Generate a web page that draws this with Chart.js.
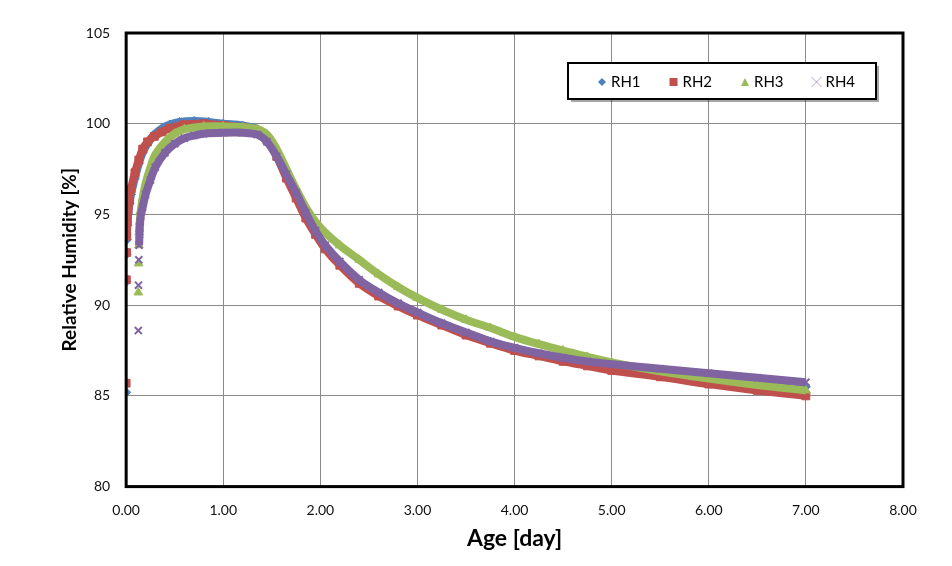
<!DOCTYPE html>
<html>
<head>
<meta charset="utf-8">
<script src="https://cdn.jsdelivr.net/npm/chart.js@4.4.0/dist/chart.umd.min.js"></script>
<style>
  html, body { margin: 0; padding: 0; background: #ffffff; }
</style>
</head>
<body>
<canvas id="graficoRH" width="952" height="566"></canvas>
<script>
// --- datos ---
const nombresSeries = ['RH1', 'RH2', 'RH3', 'RH4'];

const edadRH1 = [0, 0.002, 0.004, 0.007, 0.012, 0.02, 0.035, 0.05, 0.09, 0.13, 0.17, 0.22, 0.29, 0.37, 0.45, 0.55, 0.7, 0.85, 1.0, 1.2, 1.35, 1.45, 1.55, 1.65, 1.75, 1.85, 1.95, 2.05, 2.2, 2.4, 2.6, 2.8, 3.0, 3.25, 3.5, 3.75, 4.0, 4.25, 4.5, 4.75, 5.0, 5.5, 6.0, 6.5, 7.0];
const valorRH1 = [85.2, 91.3, 92.8, 93.6, 94.4, 95.0, 95.6, 96.1, 97.0, 97.8, 98.4, 98.9, 99.4, 99.75, 99.95, 100.1, 100.15, 100.1, 100.0, 99.9, 99.7, 99.2, 98.3, 97.2, 96.1, 95.0, 94.05, 93.25, 92.35, 91.35, 90.65, 90.05, 89.55, 89.0, 88.45, 88.0, 87.6, 87.3, 87.0, 86.8, 86.6, 86.3, 86.0, 85.75, 85.5];

const edadRH2 = [0, 0.002, 0.004, 0.007, 0.012, 0.02, 0.035, 0.05, 0.09, 0.13, 0.17, 0.22, 0.29, 0.37, 0.45, 0.6, 0.8, 1.0, 1.2, 1.35, 1.45, 1.55, 1.65, 1.75, 1.85, 1.95, 2.05, 2.2, 2.4, 2.6, 2.8, 3.0, 3.25, 3.5, 3.75, 4.0, 4.25, 4.5, 4.75, 5.0, 5.5, 6.0, 6.5, 7.0];
const valorRH2 = [85.7, 91.4, 92.9, 93.8, 94.6, 95.2, 95.8, 96.4, 97.3, 98.0, 98.6, 99.0, 99.3, 99.55, 99.75, 99.95, 100.0, 99.9, 99.8, 99.6, 99.1, 98.2, 97.0, 95.9, 94.8, 93.9, 93.1, 92.2, 91.2, 90.5, 89.95, 89.45, 88.9, 88.35, 87.9, 87.5, 87.2, 86.9, 86.65, 86.4, 86.05, 85.65, 85.3, 85.0];

const edadRH3 = [0.125, 0.128, 0.131, 0.134, 0.14, 0.15, 0.17, 0.2, 0.25, 0.3, 0.4, 0.5, 0.6, 0.8, 1.0, 1.2, 1.35, 1.45, 1.55, 1.65, 1.75, 1.85, 1.95, 2.05, 2.2, 2.4, 2.6, 2.8, 3.0, 3.25, 3.5, 3.75, 4.0, 4.25, 4.5, 4.75, 5.0, 5.5, 6.0, 6.5, 7.0];
const valorRH3 = [90.7, 92.3, 93.3, 94.0, 94.6, 95.2, 95.9, 96.7, 97.6, 98.3, 99.0, 99.45, 99.7, 99.85, 99.85, 99.8, 99.7, 99.4, 98.6, 97.5, 96.4, 95.4, 94.6, 94.0, 93.3, 92.5, 91.7, 91.0, 90.4, 89.75, 89.2, 88.75, 88.25, 87.85, 87.5, 87.15, 86.85, 86.35, 85.95, 85.6, 85.3];

const edadRH4 = [0.125, 0.127, 0.13, 0.133, 0.137, 0.14, 0.15, 0.17, 0.2, 0.25, 0.3, 0.4, 0.5, 0.6, 0.7, 0.8, 1.0, 1.2, 1.35, 1.45, 1.55, 1.65, 1.75, 1.85, 1.95, 2.05, 2.2, 2.4, 2.6, 2.8, 3.0, 3.25, 3.5, 3.75, 4.0, 4.25, 4.5, 4.75, 5.0, 5.5, 6.0, 6.5, 7.0];
const valorRH4 = [88.6, 91.1, 92.5, 93.3, 93.9, 94.3, 94.9, 95.4, 96.1, 96.9, 97.6, 98.4, 98.9, 99.2, 99.35, 99.45, 99.5, 99.5, 99.4, 99.0, 98.2, 97.2, 96.2, 95.1, 94.1, 93.3, 92.4, 91.4, 90.7, 90.1, 89.6, 89.0, 88.5, 88.0, 87.65, 87.35, 87.1, 86.9, 86.75, 86.5, 86.25, 86.0, 85.75];

const ticksEdad = [0, 1, 2, 3, 4, 5, 6, 7, 8];
const ticksHumedad = [80, 85, 90, 95, 100, 105];

// --- estilos ---
const colores = ['#4F81BD', '#C0504D', '#9BBB59', '#8064A2'];
const marcadores = ['rectRot', 'rect', 'triangle', 'crossRot'];
const radios = [4.5, 5.5, 5, 5];
const puntosSueltos = [3, 3, 3, 3]; // primeros puntos sin banda

const edades = [edadRH1, edadRH2, edadRH3, edadRH4];
const valores = [valorRH1, valorRH2, valorRH3, valorRH4];

const Conjuntodedatos = nombresSeries.map((nombre, i) => ({
    label: nombre,
    data: edades[i].map((x, k) => ({ x: x, y: valores[i][k] })),
    showLine: true,
    borderColor: colores[i],
    backgroundColor: colores[i],
    borderWidth: 8,
    tension: 0.35,
    pointStyle: marcadores[i],
    pointRadius: radios[i],
    pointBorderWidth: i === 3 ? 2 : 1,
    order: 3 - i,
    segment: {
        borderColor: ctx => ctx.p0DataIndex < puntosSueltos[i] ? 'rgba(0,0,0,0)' : undefined
    }
}));

const fuente = 'Lato, "Liberation Sans", sans-serif';

// --- marco negro y leyenda con caja ---
const marcoYLeyenda = {
    id: 'marcoYLeyenda',
    afterDatasetsDraw(chart) {
        const ctx = chart.ctx;
        const a = chart.chartArea;
        ctx.save();
        ctx.strokeStyle = '#000000';
        ctx.lineWidth = 3;
        ctx.strokeRect(a.left, a.top, a.right - a.left, a.bottom - a.top);

        const bx = a.right - 335, by = a.top + 30, bw = 308, bh = 36;
        ctx.fillStyle = 'rgba(0,0,0,0.35)';
        ctx.fillRect(bx + 3, by + 3, bw, bh);
        ctx.fillStyle = '#ffffff';
        ctx.fillRect(bx, by, bw, bh);
        ctx.lineWidth = 2;
        ctx.strokeRect(bx, by, bw, bh);

        ctx.font = '15px ' + fuente;
        ctx.textBaseline = 'middle';
        chart.data.datasets.forEach((ds, i) => {
            const mx = bx + 34 + i * 71.5;
            const my = by + bh / 2 + 1;
            ctx.fillStyle = ds.backgroundColor;
            ctx.strokeStyle = ds.borderColor;
            ctx.lineWidth = 1;
            ctx.beginPath();
            if (ds.pointStyle === 'rectRot') {
                ctx.moveTo(mx, my - 4); ctx.lineTo(mx + 4, my); ctx.lineTo(mx, my + 4); ctx.lineTo(mx - 4, my);
                ctx.closePath(); ctx.fill();
            } else if (ds.pointStyle === 'rect') {
                ctx.rect(mx - 4, my - 4, 8, 8); ctx.fill();
            } else if (ds.pointStyle === 'triangle') {
                ctx.moveTo(mx, my - 4); ctx.lineTo(mx + 4, my + 4); ctx.lineTo(mx - 4, my + 4);
                ctx.closePath(); ctx.fill();
            } else {
                ctx.moveTo(mx - 5, my - 5); ctx.lineTo(mx + 5, my + 5);
                ctx.moveTo(mx + 5, my - 5); ctx.lineTo(mx - 5, my + 5);
                ctx.globalAlpha = 0.6; ctx.stroke(); ctx.globalAlpha = 1;
            }
            ctx.fillStyle = '#000000';
            ctx.textAlign = 'left';
            ctx.fillText(ds.label, mx + 9, my);
        });
        ctx.restore();
    }
};

Chart.defaults.font.family = fuente;
Chart.defaults.color = '#111111';

const ctx = document.getElementById('graficoRH').getContext('2d');

new Chart(ctx, {
    type: 'scatter',
    data: { datasets: Conjuntodedatos },
    plugins: [marcoYLeyenda],
    options: {
        responsive: false,
        devicePixelRatio: 1,
        animation: false,
        layout: { padding: { top: 33, right: 49, left: 58, bottom: 14 } },
        plugins: {
            legend: { display: false },
            tooltip: { enabled: false }
        },
        scales: {
            x: {
                type: 'linear',
                min: ticksEdad[0],
                max: ticksEdad[ticksEdad.length - 1],
                afterBuildTicks: axis => { axis.ticks = ticksEdad.map(v => ({ value: v })); },
                ticks: {
                    font: { size: 14 },
                    padding: 15,
                    callback: v => Number(v).toFixed(2)
                },
                grid: { color: '#8a8a8a', lineWidth: 1, drawTicks: false },
                border: { display: false },
                title: {
                    display: true,
                    text: 'Age [day]',
                    font: { size: 23, weight: 'bold' },
                    color: '#000000',
                    padding: { top: -9, bottom: 0 }
                }
            },
            y: {
                type: 'linear',
                min: ticksHumedad[0],
                max: ticksHumedad[ticksHumedad.length - 1],
                afterBuildTicks: axis => { axis.ticks = ticksHumedad.map(v => ({ value: v })); },
                ticks: {
                    font: { size: 14 },
                    padding: 16
                },
                grid: { color: '#8a8a8a', lineWidth: 1, drawTicks: false },
                border: { display: false },
                title: {
                    display: true,
                    text: 'Relative Humidity [%]',
                    font: { size: 19, weight: 'bold' },
                    color: '#000000',
                    padding: { top: 0, bottom: -11 }
                }
            }
        }
    }
});
</script>
</body>
</html>
